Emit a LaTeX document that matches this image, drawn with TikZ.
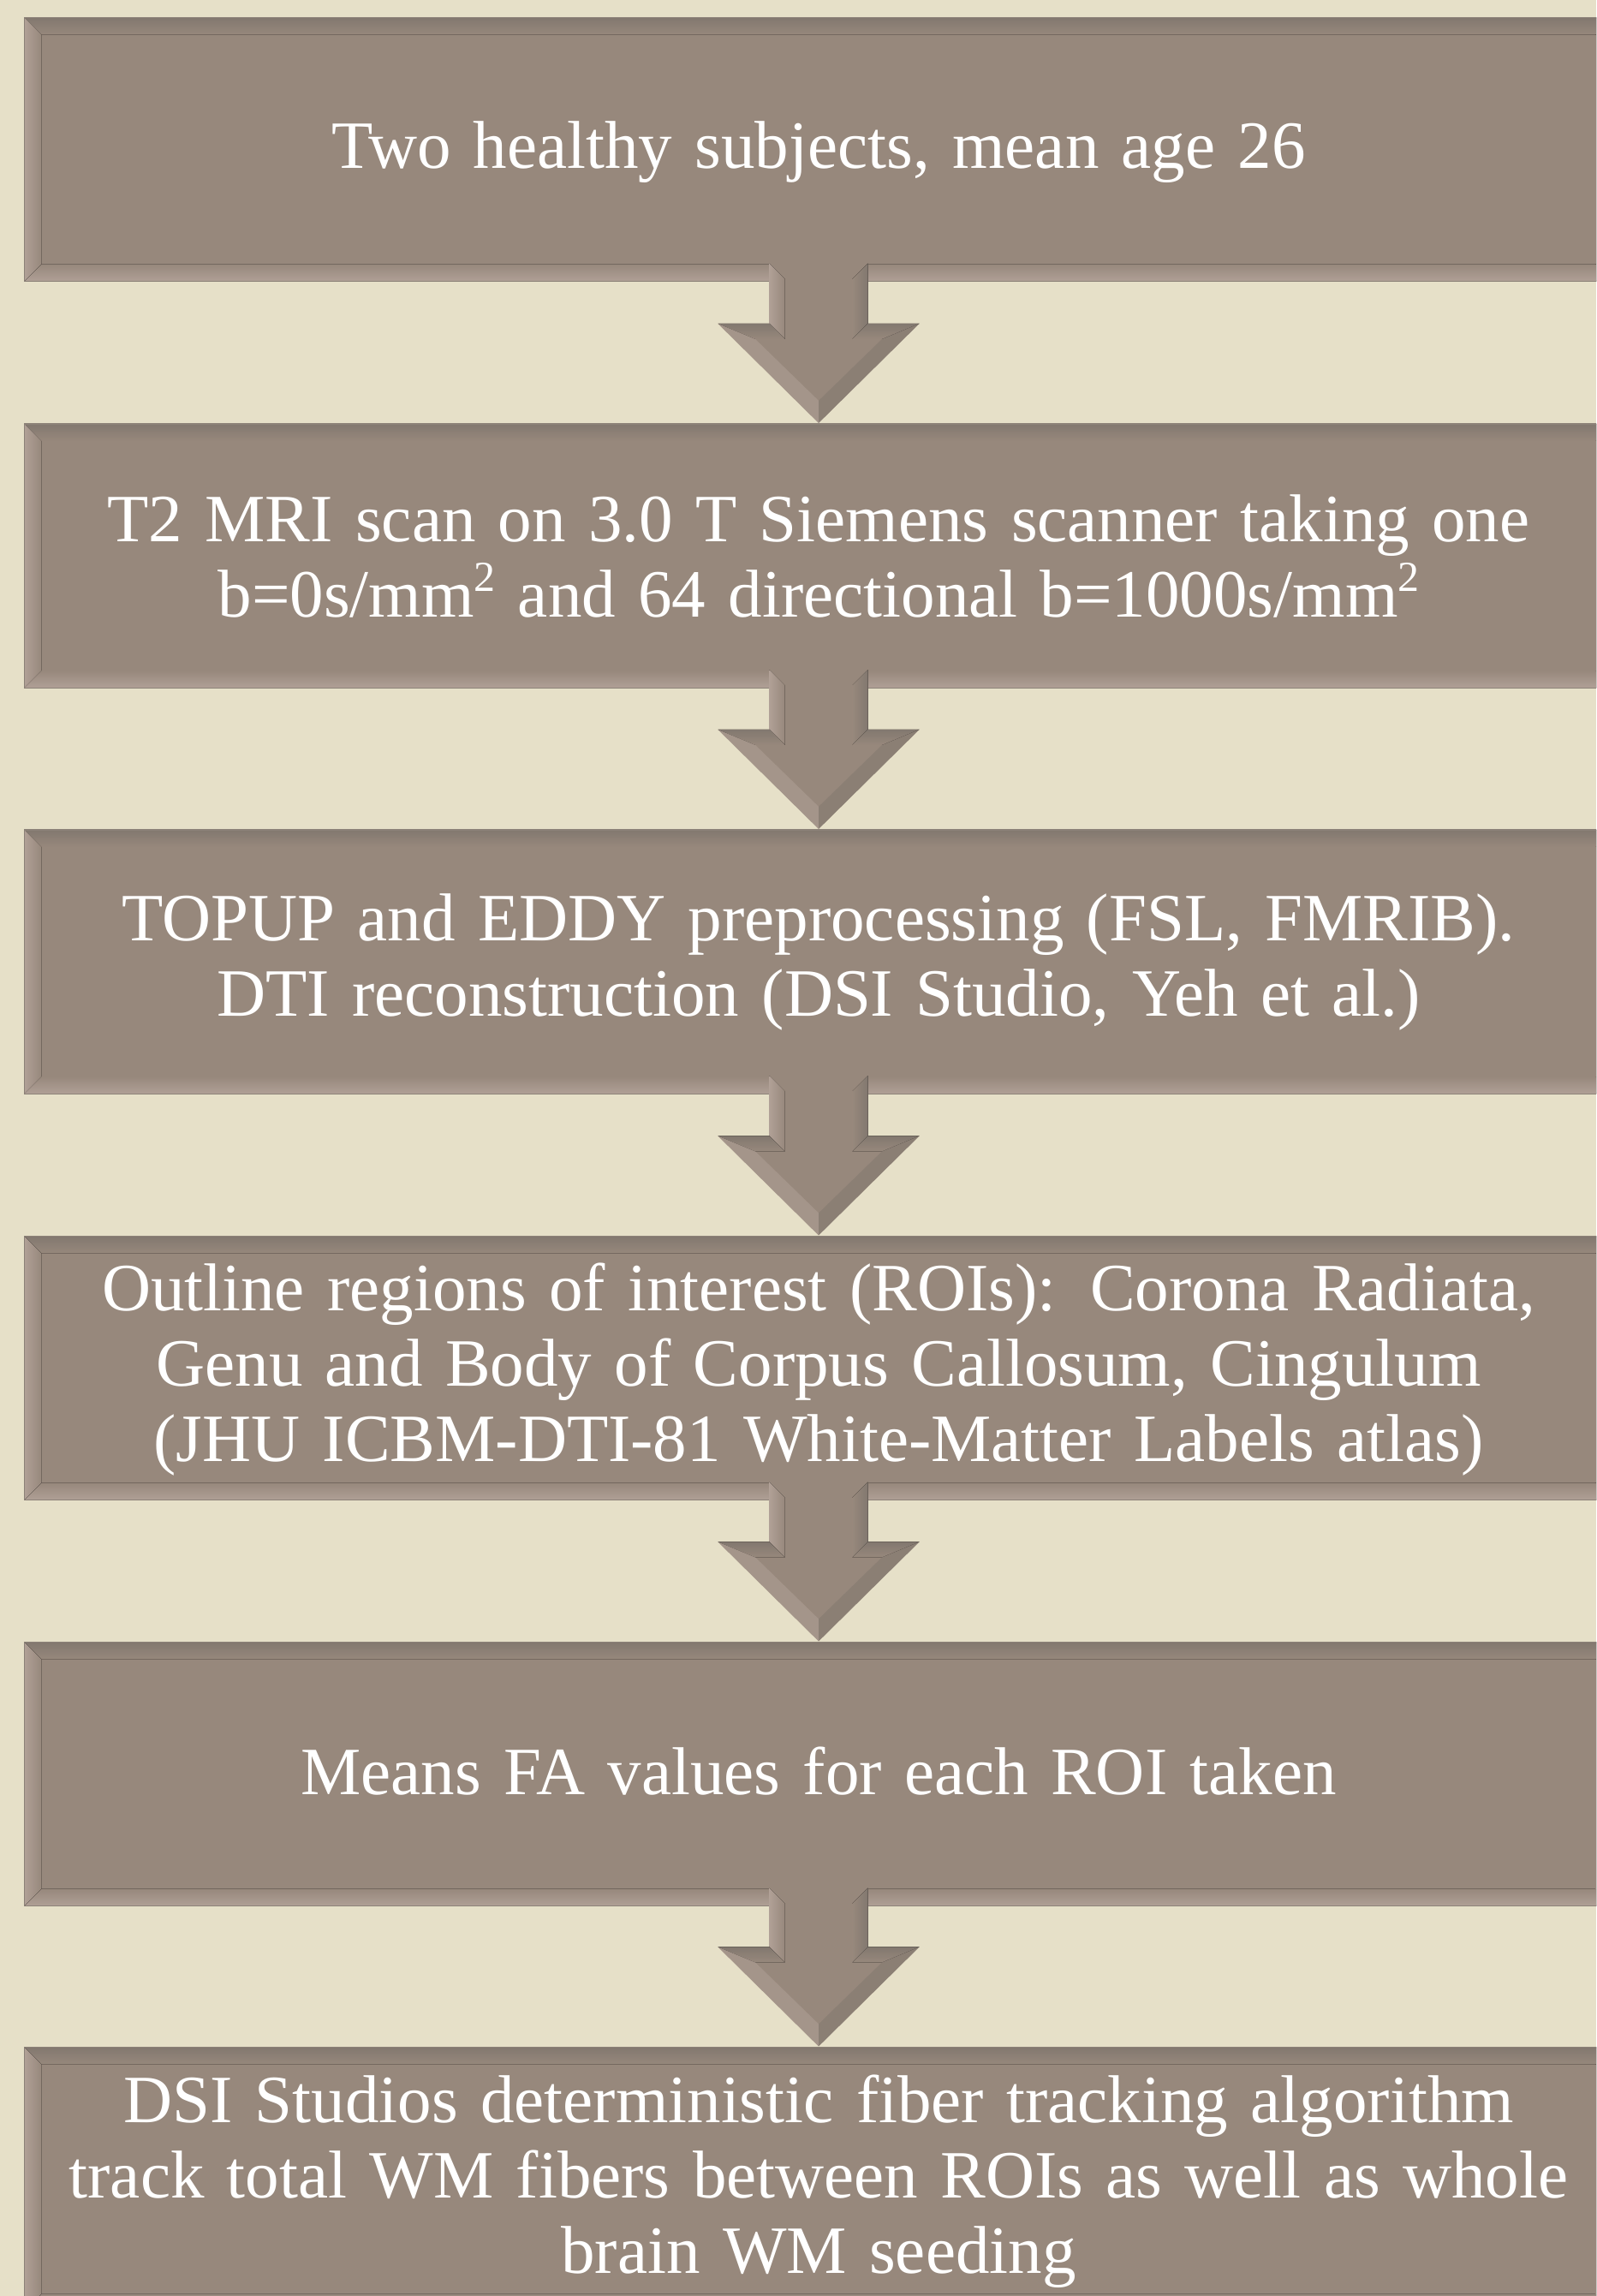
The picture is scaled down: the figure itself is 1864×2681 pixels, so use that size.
\documentclass[tikz,border=0pt]{standalone}
\usepackage{fontspec}
\setmainfont{Liberation Serif}
\usetikzlibrary{calc}
\definecolor{bg}{RGB}{230,224,200}
\definecolor{boxc}{RGB}{151,136,124}
\definecolor{boxdark}{RGB}{130,120,111}
\definecolor{boxlight}{RGB}{176,160,150}
\definecolor{edgec}{RGB}{140,130,120}
\newcommand\sqr{\raisebox{0.38em}{\fontsize{50}{50}\selectfont 2}}
\tikzset{
  stepbox/.style={rectangle, fill=boxc, draw=edgec, line width=1.2pt,
    minimum width=1854pt, minimum height=307pt, inner sep=0pt,
    text=white, align=center, text width=1830pt,
    font=\fontsize{79}{88}\selectfont},
  textbox/.style={stepbox, fill=none, draw=none},
  litface/.style={fill=boxlight, fill opacity=0.55},
  darkface/.style={fill=boxdark, fill opacity=0.55},
}
\newcommand\bevelbox[1]{%
  \fill[top color=boxdark, bottom color=boxc] (#1.north west) -- (#1.north east) -- ($(#1.north east)+(-20pt,-20pt)$) -- ($(#1.north west)+(20pt,-20pt)$) -- cycle;
  \fill[left color=boxlight, right color=boxc] (#1.north west) -- ($(#1.north west)+(20pt,-20pt)$) -- ($(#1.south west)+(20pt,20pt)$) -- (#1.south west) -- cycle;
  \fill[top color=boxc, bottom color=boxlight] (#1.south west) -- ($(#1.south west)+(20pt,20pt)$) -- ($(#1.south east)+(-20pt,20pt)$) -- (#1.south east) -- cycle;
  \fill[left color=boxc, right color=boxdark] (#1.north east) -- ($(#1.north east)+(-20pt,-20pt)$) -- ($(#1.south east)+(-20pt,20pt)$) -- (#1.south east) -- cycle;
  \draw[edgec, line width=1.2pt] (#1.north west) rectangle (#1.south east);
}
\newcommand\flowarrow[2]{%
  \coordinate (T) at ($(#1.south)+(0,21pt)$);
  \coordinate (H) at (#2.north);
  \fill[boxc] ($(T)+(-57.5pt,0)$) -- ($(T)+(57.5pt,0)$) -- ($(H)+(57.5pt,117pt)$) -- ($(H)+(117.5pt,117pt)$) -- ($(H)+(0,1pt)$) -- ($(H)+(-117.5pt,117pt)$) -- ($(H)+(-57.5pt,117pt)$) -- cycle;
  \fill[left color=boxlight, right color=boxc] ($(T)+(-57.5pt,0)$) -- ($(T)+(-39.5pt,-18pt)$) -- ($(H)+(-39.5pt,99pt)$) -- ($(H)+(-57.5pt,117pt)$) -- cycle;
  \fill[left color=boxc, right color=boxdark] ($(T)+(57.5pt,0)$) -- ($(T)+(39.5pt,-18pt)$) -- ($(H)+(39.5pt,99pt)$) -- ($(H)+(57.5pt,117pt)$) -- cycle;
  \fill[top color=boxdark, bottom color=boxc] ($(H)+(-57.5pt,117pt)$) -- ($(H)+(-39.5pt,99pt)$) -- ($(H)+(-74pt,99pt)$) -- ($(H)+(-117.5pt,117pt)$) -- cycle;
  \fill[top color=boxdark, bottom color=boxc] ($(H)+(57.5pt,117pt)$) -- ($(H)+(39.5pt,99pt)$) -- ($(H)+(74pt,99pt)$) -- ($(H)+(117.5pt,117pt)$) -- cycle;
  \fill[litface] ($(H)+(-117.5pt,117pt)$) -- ($(H)+(-74pt,99pt)$) -- ($(H)+(0,27pt)$) -- ($(H)+(0,1pt)$) -- cycle;
  \fill[darkface] ($(H)+(117.5pt,117pt)$) -- ($(H)+(74pt,99pt)$) -- ($(H)+(0,27pt)$) -- ($(H)+(0,1pt)$) -- cycle;
}
\begin{document}
\begin{tikzpicture}
\useasboundingbox (0,0) rectangle (1864pt,-2681pt);
\fill[bg] (0,0) rectangle (1864pt,-2681pt);
\begin{scope}
\clip (0,0) rectangle (1864pt,-2681pt);
\node[stepbox] (b1) at (956pt,-174.5pt) {};
\node[stepbox] (b2) at (956pt,-649pt) {};
\node[stepbox] (b3) at (956pt,-1123pt) {};
\node[stepbox] (b4) at (956pt,-1597.5pt) {};
\node[stepbox] (b5) at (956pt,-2071.5pt) {};
\node[stepbox] (b6) at (956pt,-2544.5pt) {};
\foreach \b in {b1,b2,b3,b4,b5,b6} {\bevelbox{\b}}
\flowarrow{b1}{b2}
\flowarrow{b2}{b3}
\flowarrow{b3}{b4}
\flowarrow{b4}{b5}
\flowarrow{b5}{b6}
\node[textbox] (t1) at ($(b1)+(0,-3pt)$) {Two healthy subjects, mean age 26};
\node[textbox] (t2) at (b2) {T2 MRI scan on 3.0 T Siemens scanner taking one\\b=0s/mm\sqr{} and 64 directional b=1000s/mm\sqr};
\node[textbox] (t3) at (b3) {TOPUP and EDDY preprocessing (FSL, FMRIB).\\DTI reconstruction (DSI Studio, Yeh et al.)};
\node[textbox] (t4) at ($(b4)+(0,-2pt)$) {Outline regions of interest (ROIs): Corona Radiata,\\Genu and Body of Corpus Callosum, Cingulum\\(JHU ICBM-DTI-81 White-Matter Labels atlas)};
\node[textbox] (t5) at ($(b5)+(0,3pt)$) {Means FA values for each ROI taken};
\node[textbox] (t6) at ($(b6)+(0,-3pt)$) {DSI Studios deterministic fiber tracking algorithm\\track total WM fibers between ROIs as well as whole\\brain WM seeding};
\end{scope}
\end{tikzpicture}
\end{document}
